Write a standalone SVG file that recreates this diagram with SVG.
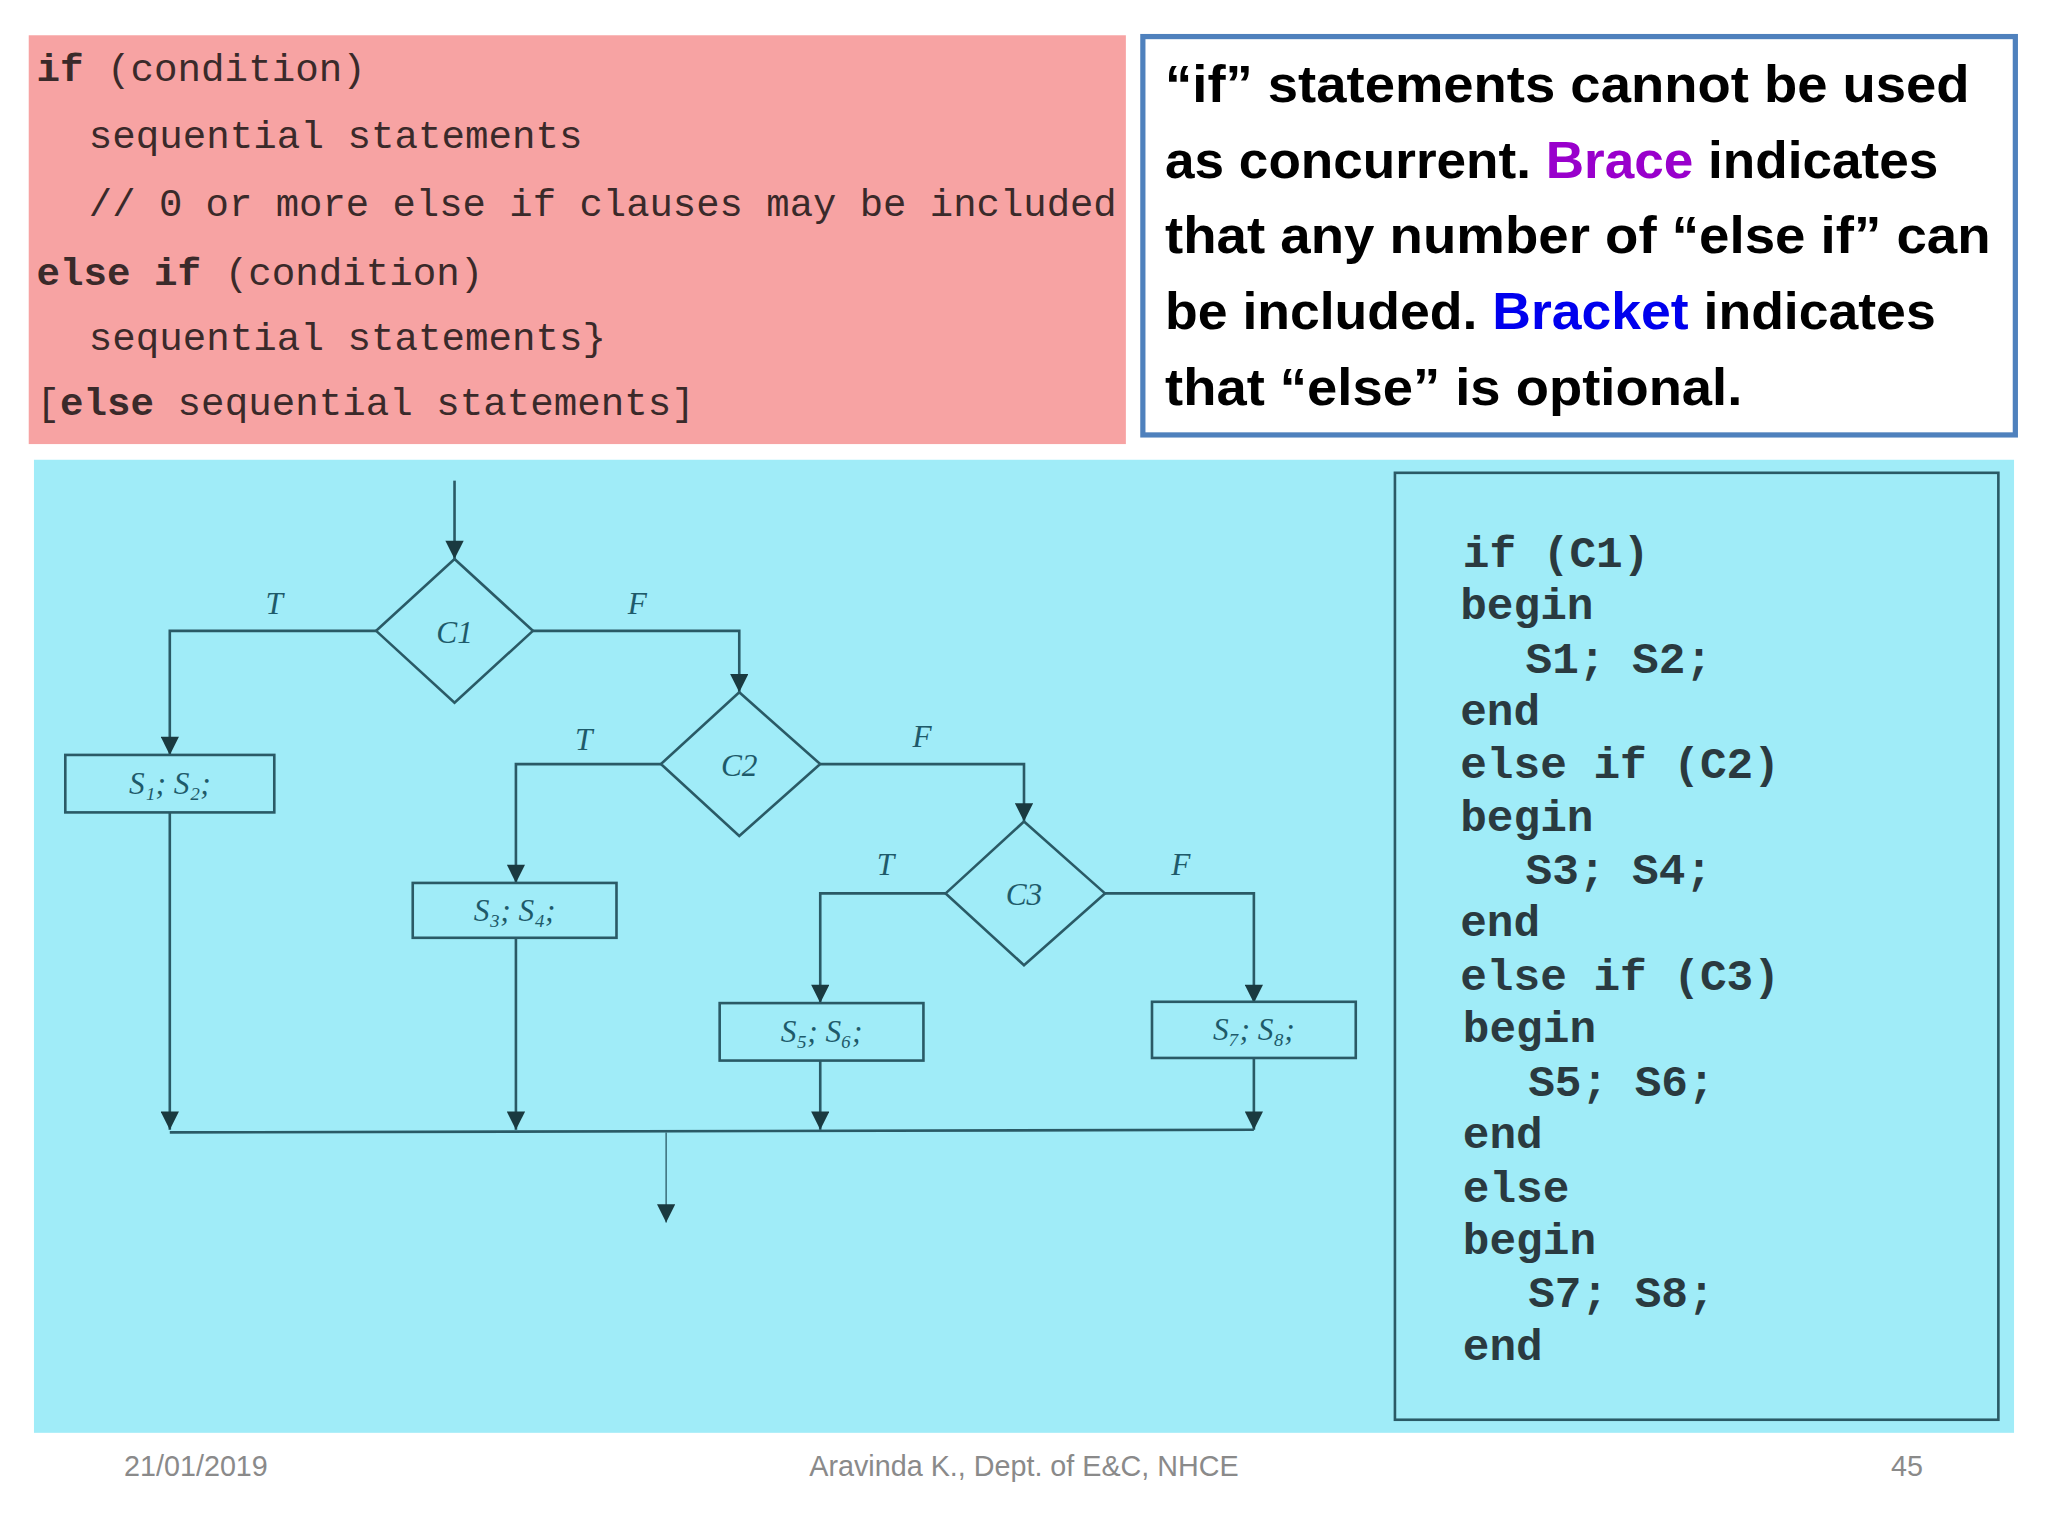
<svg xmlns="http://www.w3.org/2000/svg" width="2048" height="1536" viewBox="0 0 2048 1536">
<defs>
<marker id="ah" viewBox="0 0 10 10" refX="10" refY="5" markerWidth="18" markerHeight="14" orient="auto" markerUnits="userSpaceOnUse"><path d="M0,0 L10,5 L0,10 z" fill="#1a3a40"/></marker>
<style>
.ln{fill:none;stroke:#2a5a66;stroke-width:2}
.ar{fill:none;stroke:#2a5a66;stroke-width:2;marker-end:url(#ah)}
.box{fill:none;stroke:#2a5a66;stroke-width:2}
.lb{font-family:"Liberation Serif",serif;font-style:italic;font-size:24px;fill:#1e5a6a;text-anchor:middle}
.pc{font-family:"Liberation Mono",monospace;font-size:30px;fill:#3a2a2a}
.cc{font-family:"Liberation Mono",monospace;font-size:34px;font-weight:bold;fill:#2a3a40}
.rt{font-family:"Liberation Sans",sans-serif;font-size:40px;font-weight:bold;fill:#000}
.ft{font-family:"Liberation Sans",sans-serif;font-size:22px;fill:#8a8a8a}
</style>
</defs>
<rect width="2048" height="1536" fill="#fff"/>
<g transform="scale(1.30612)">
<g id="pink">
<rect x="22" y="27" width="840" height="313" fill="#f7a3a3"/>
<text class="pc" x="28" y="62"><tspan font-weight="bold">if</tspan> (condition)</text>
<text class="pc" x="68" y="113">sequential statements</text>
<text class="pc" x="68" y="165" textLength="787" lengthAdjust="spacingAndGlyphs">// 0 or more else if clauses may be included</text>
<text class="pc" x="28" y="218"><tspan font-weight="bold">else if</tspan> (condition)</text>
<text class="pc" x="68" y="268">sequential statements}</text>
<text class="pc" x="28" y="318">[<tspan font-weight="bold">else</tspan>  sequential statements]</text>
</g>
<g id="note">
<rect x="875" y="28" width="668" height="305" fill="#fff" stroke="#4f81bd" stroke-width="4"/>
<text class="rt" x="892" y="78" textLength="616" lengthAdjust="spacingAndGlyphs">“if” statements cannot be used</text>
<text class="rt" x="892" y="136" textLength="592" lengthAdjust="spacingAndGlyphs">as concurrent. <tspan fill="#9900cc">Brace</tspan> indicates</text>
<text class="rt" x="892" y="194" textLength="632" lengthAdjust="spacingAndGlyphs">that any number of “else if” can</text>
<text class="rt" x="892" y="252" textLength="590" lengthAdjust="spacingAndGlyphs">be included. <tspan fill="#0000ee">Bracket</tspan> indicates</text>
<text class="rt" x="892" y="310" textLength="442" lengthAdjust="spacingAndGlyphs">that “else” is optional.</text>
</g>
<rect x="26" y="352" width="1516" height="745" fill="#a0ecf8"/>
<g id="connectors">
<line class="ar" x1="348" y1="368" x2="348" y2="428"/>
<polyline class="ar" points="288,483 130,483 130,578"/>
<polyline class="ar" points="408,483 566,483 566,530"/>
<line class="ar" x1="130" y1="622" x2="130" y2="865"/>
<polyline class="ar" points="506,585 395,585 395,676"/>
<polyline class="ar" points="628,585 784,585 784,629"/>
<line class="ar" x1="395" y1="718" x2="395" y2="865"/>
<polyline class="ar" points="724,684 628,684 628,768"/>
<polyline class="ar" points="846,684 960,684 960,768"/>
<line class="ar" x1="628" y1="812" x2="628" y2="865"/>
<line class="ar" x1="960" y1="810" x2="960" y2="865"/>
<line class="ln" x1="130" y1="867" x2="960" y2="865"/>
<line class="ar" x1="510" y1="867" x2="510" y2="936" style="stroke-width:1"/>
<text class="lb" x="210" y="470">T</text>
<text class="lb" x="488" y="470">F</text>
<text class="lb" x="447" y="574">T</text>
<text class="lb" x="706" y="572">F</text>
<text class="lb" x="678" y="670">T</text>
<text class="lb" x="904" y="670">F</text>
</g>
<g id="C1"><polygon class="box" points="348,428 408,483 348,538 288,483"/><text class="lb" x="348" y="492">C1</text></g>
<g id="C2"><polygon class="box" points="566,530 628,585 566,640 506,585"/><text class="lb" x="566" y="594">C2</text></g>
<g id="C3"><polygon class="box" points="784,629 846,684 784,739 724,684"/><text class="lb" x="784" y="693">C3</text></g>
<g id="S12"><rect class="box" x="50" y="578" width="160" height="44"/><text class="lb" x="130" y="608">S₁; S₂;</text></g>
<g id="S34"><rect class="box" x="316" y="676" width="156" height="42"/><text class="lb" x="394" y="705">S₃; S₄;</text></g>
<g id="S56"><rect class="box" x="551" y="768" width="156" height="44"/><text class="lb" x="629" y="798">S₅; S₆;</text></g>
<g id="S78"><rect class="box" x="882" y="767" width="156" height="43"/><text class="lb" x="960" y="796">S₇; S₈;</text></g>
<g id="code">
<rect class="box" x="1068" y="362" width="462" height="725"/>
<text class="cc" x="1120" y="434">if (C1)</text>
<text class="cc" x="1118" y="474">begin</text>
<text class="cc" x="1168" y="515">S1; S2;</text>
<text class="cc" x="1118" y="555">end</text>
<text class="cc" x="1118" y="596">else if (C2)</text>
<text class="cc" x="1118" y="636">begin</text>
<text class="cc" x="1168" y="677">S3; S4;</text>
<text class="cc" x="1118" y="717">end</text>
<text class="cc" x="1118" y="758">else if (C3)</text>
<text class="cc" x="1120" y="798">begin</text>
<text class="cc" x="1170" y="839">S5; S6;</text>
<text class="cc" x="1120" y="879">end</text>
<text class="cc" x="1120" y="920">else</text>
<text class="cc" x="1120" y="960">begin</text>
<text class="cc" x="1170" y="1001">S7; S8;</text>
<text class="cc" x="1120" y="1041">end</text>
</g>
<g id="footer">
<text class="ft" x="95" y="1130">21/01/2019</text>
<text class="ft" x="784" y="1130" text-anchor="middle">Aravinda K., Dept. of E&amp;C, NHCE</text>
<text class="ft" x="1460" y="1130" text-anchor="middle">45</text>
</g>
</g>
</svg>
